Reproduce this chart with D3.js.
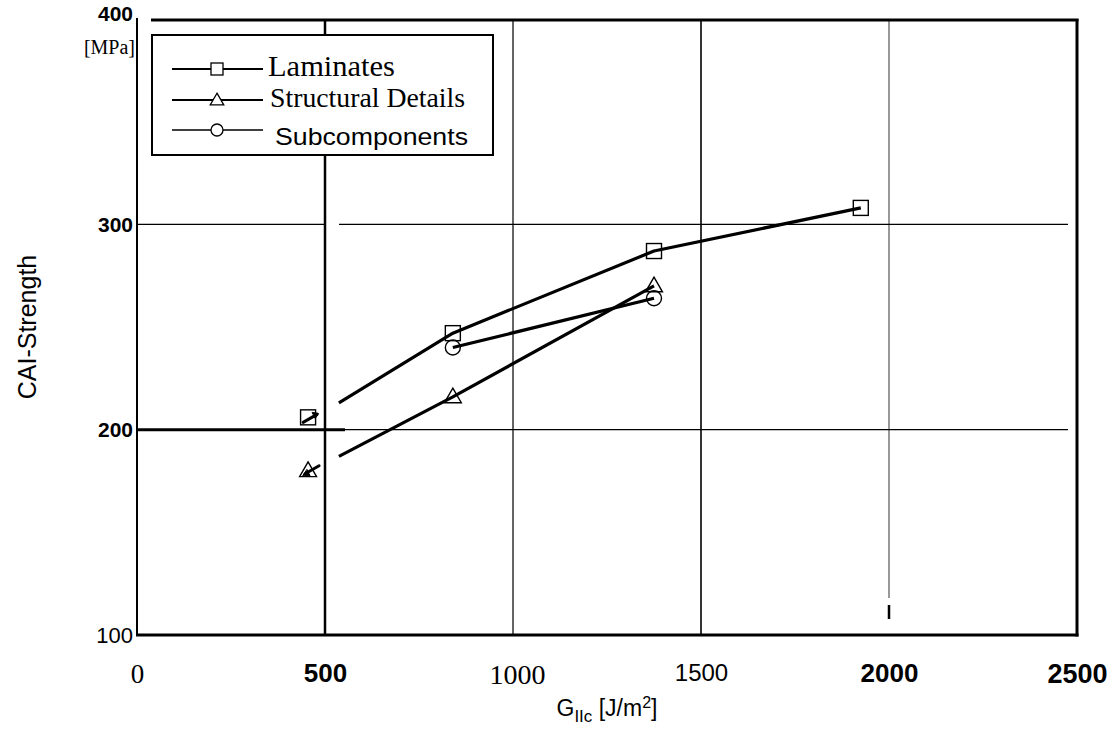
<!DOCTYPE html>
<html>
<head>
<meta charset="utf-8">
<script src="https://cdn.jsdelivr.net/npm/d3@7"></script>
<style>
  body { margin: 0; background: white; }
  svg { display: block; }
</style>
</head>
<body>
<script>
let x_size = 1120
let y_size = 742

// axis ticks
let xTicks = [0, 500, 1000, 1500, 2000, 2500]
let yTicks = [100, 200, 300, 400]
let seriesNames = ['Laminates', 'Structural Details', 'Subcomponents']

// markers
let laminatesX = [455, 840, 1375, 1925]
let laminatesY = [206, 247, 287, 308]
let structuralX = [455, 840, 1375]
let structuralY = [180, 216, 270]
let subcompX = [840, 1375]
let subcompY = [240, 264]

// drawn lines start a bit right of the first marker in the scan
let laminatesLineX = [537, 840, 1375, 1925]
let laminatesLineY = [213, 247, 287, 308]
let structuralLineX = [537, 840, 1375]
let structuralLineY = [187, 216, 270]

// per-label fonts, the scan mixes them
let xTickFont = {
    0: {family: 'Liberation Serif', weight: 'normal', size: 27},
    500: {family: 'Liberation Sans', weight: 'bold', size: 26},
    1000: {family: 'Liberation Serif', weight: 'normal', size: 28},
    1500: {family: 'Liberation Sans', weight: 'normal', size: 24},
    2000: {family: 'Liberation Sans', weight: 'bold', size: 26},
    2500: {family: 'Liberation Sans', weight: 'bold', size: 27}
}
let yTickFont = {
    100: {family: 'Liberation Sans', weight: 'normal', size: 22},
    200: {family: 'Liberation Sans', weight: 'bold', size: 21},
    300: {family: 'Liberation Sans', weight: 'bold', size: 21},
    400: {family: 'Liberation Sans', weight: 'bold', size: 21}
}

let pLeft = 137, pRight = 1077, pTop = 19, pBottom = 635
let x = d3.scaleLinear().domain([0, 2500]).range([pLeft, pRight])
let y = d3.scaleLinear().domain([100, 400]).range([pBottom, pTop])

function zip(xs, ys) { return xs.map((v, i) => [v, ys[i]]) }

function marker(g, type, cx, cy, s) {
    if (type === 'square')
        g.append('rect').attr('x', cx - s / 2).attr('y', cy - s / 2)
            .attr('width', s).attr('height', s)
    else if (type === 'triangle')
        g.append('path').attr('d', d3.symbol(d3.symbolTriangle, s * s * 0.55)()).attr('transform', `translate(${cx},${cy + 1})`)
    else
        g.append('circle').attr('cx', cx).attr('cy', cy).attr('r', s / 2)
}

let svg = d3.select('body').append('svg')
    .attr('width', x_size)
    .attr('height', y_size)
svg.append('rect').attr('width', x_size).attr('height', y_size).attr('fill', 'white')

// grid
let grid = svg.append('g').attr('stroke', 'black').attr('fill', 'none')
let vGrid = [
    {v: 500, w: 2.5, c: '#000', y1: pTop, y2: pBottom},
    {v: 1000, w: 1.3, c: '#111', y1: pTop, y2: pBottom},
    {v: 1500, w: 1.6, c: '#000', y1: pTop, y2: pBottom},
    {v: 2000, w: 1.1, c: '#444', y1: pTop + 1, y2: 598}
]
vGrid.forEach(d => {
    grid.append('line').attr('x1', x(d.v)).attr('x2', x(d.v)).attr('y1', d.y1).attr('y2', d.y2)
        .attr('stroke-width', d.w).attr('stroke', d.c)
})
grid.append('line').attr('x1', x(2000)).attr('x2', x(2000)).attr('y1', 605).attr('y2', 619).attr('stroke-width', 2.5)
let hGrid = [
    {v: 300, x1: pLeft, x2: x(500), w: 1.3},
    {v: 300, x1: x(500) + 14, x2: 1068, w: 1.3},
    {v: 200, x1: pLeft, x2: 345, w: 3},
    {v: 200, x1: 345, x2: 1068, w: 1.1}
]
hGrid.forEach(d => {
    grid.append('line').attr('x1', d.x1).attr('x2', d.x2).attr('y1', y(d.v)).attr('y2', y(d.v))
        .attr('stroke-width', d.w)
})

// frame
let frame = svg.append('g').attr('stroke', 'black').attr('fill', 'none')
frame.append('line').attr('x1', pLeft).attr('x2', pLeft).attr('y1', pTop - 1).attr('y2', pBottom + 1).attr('stroke-width', 2)
frame.append('line').attr('x1', 151).attr('x2', pRight + 1.5).attr('y1', pTop + 1).attr('y2', pTop + 1).attr('stroke-width', 3)
frame.append('line').attr('x1', pRight).attr('x2', pRight).attr('y1', pTop).attr('y2', pBottom + 1.5).attr('stroke-width', 3)
frame.append('line').attr('x1', pLeft - 1).attr('x2', pRight + 1.5).attr('y1', pBottom).attr('y2', pBottom).attr('stroke-width', 3)

// x axis labels
let xAxis = svg.append('g')
    .attr('transform', `translate(0,${pBottom})`)
    .call(d3.axisBottom(x).tickValues(xTicks).tickSize(0).tickPadding(29).tickFormat(d => String(d)))
xAxis.select('.domain').remove()
xAxis.selectAll('text')
    .attr('fill', 'black')
    .style('font-family', d => xTickFont[d].family)
    .style('font-weight', d => xTickFont[d].weight)
    .style('font-size', d => xTickFont[d].size + 'px')
xAxis.selectAll('.tick').filter(d => d === 1000).select('text').attr('dx', 4)

// y axis labels
let yAxis = svg.append('g')
    .attr('transform', `translate(${pLeft},0)`)
    .call(d3.axisLeft(y).tickValues(yTicks).tickSize(0).tickPadding(4).tickFormat(d => String(d)))
yAxis.select('.domain').remove()
yAxis.selectAll('text')
    .attr('fill', 'black')
    .style('font-family', d => yTickFont[d].family)
    .style('font-weight', d => yTickFont[d].weight)
    .style('font-size', d => yTickFont[d].size + 'px')
yAxis.selectAll('.tick').filter(d => d === 400).select('text').attr('dy', '0.05em')

svg.append('text')
    .attr('x', pLeft - 2).attr('y', 54)
    .attr('text-anchor', 'end')
    .style('font-family', 'Liberation Serif').style('font-size', '20px')
    .text('[MPa]')

// axis titles
svg.append('text')
    .attr('transform', `translate(36,${(pTop + pBottom) / 2}) rotate(-90)`)
    .attr('text-anchor', 'middle')
    .style('font-family', 'Liberation Sans').style('font-size', '25px')
    .text('CAI-Strength')

let xTitle = svg.append('text')
    .attr('x', 607).attr('y', 716)
    .attr('text-anchor', 'middle')
    .style('font-family', 'Liberation Sans Narrow, Liberation Sans').style('font-size', '23px')
xTitle.append('tspan').text('G')
xTitle.append('tspan').attr('dy', 6).style('font-size', '17px').text('IIc')
xTitle.append('tspan').attr('dy', -6).text(' [J/m')
xTitle.append('tspan').attr('dy', -8).style('font-size', '16px').text('2')
xTitle.append('tspan').attr('dy', 8).text(']')

// series
let line = d3.line().x(d => x(d[0])).y(d => y(d[1]))
let series = [
    {line: zip(laminatesLineX, laminatesLineY), pts: zip(laminatesX, laminatesY), m: 'square'},
    {line: zip(structuralLineX, structuralLineY), pts: zip(structuralX, structuralY), m: 'triangle'},
    {line: zip(subcompX, subcompY), pts: zip(subcompX, subcompY), m: 'circle'}
]
let markers = svg.append('g').attr('fill', 'none').attr('stroke', 'black').attr('stroke-width', 1.4)
series.forEach(s => {
    s.pts.forEach(p => marker(markers, s.m, x(p[0]), y(p[1]), 15))
})
series.forEach(s => {
    svg.append('path').datum(s.line).attr('d', line)
        .attr('fill', 'none').attr('stroke', 'black').attr('stroke-width', 3.2)
        .attr('stroke-linejoin', 'round')
})

// small arrows pointing at the first markers
let arrows = svg.append('g').attr('stroke', 'black').attr('stroke-width', 3).attr('stroke-linecap', 'round')
let sq = [x(laminatesX[0]), y(laminatesY[0])]
arrows.append('line').attr('x1', sq[0] - 5).attr('y1', sq[1] + 5).attr('x2', sq[0] + 9).attr('y2', sq[1] - 3)
arrows.append('path').attr('d', `M${sq[0] + 10},${sq[1] - 4}l-6,-1l3,6z`).attr('fill', 'black').attr('stroke-width', 1)
let tr = [x(structuralX[0]), y(structuralY[0])]
arrows.append('line').attr('x1', tr[0] + 11).attr('y1', tr[1] - 5).attr('x2', tr[0] - 3).attr('y2', tr[1] + 3)
arrows.append('path').attr('d', `M${tr[0] - 5},${tr[1] + 5}l7,0l-3,-6z`).attr('fill', 'black').attr('stroke-width', 1)

// legend
let legend = svg.append('g')
legend.append('rect').attr('x', 152).attr('y', 35).attr('width', 341).attr('height', 120)
    .attr('fill', 'white').attr('stroke', 'black').attr('stroke-width', 2)
let legendRows = [
    {y: 69, m: 'square', font: 'Liberation Serif', size: 29, tx: 268, ty: 76, len: 127},
    {y: 100, m: 'triangle', font: 'Liberation Serif', size: 27, tx: 270, ty: 107, len: 195},
    {y: 130, m: 'circle', font: 'Liberation Sans', size: 24, tx: 275, ty: 145, len: 193}
]
legendRows.forEach((r, i) => {
    legend.append('line').attr('x1', 172).attr('x2', 263).attr('y1', r.y).attr('y2', r.y)
        .attr('stroke', 'black').attr('stroke-width', i === 2 ? 1.5 : 2)
    let g = legend.append('g').attr('fill', 'white').attr('stroke', 'black').attr('stroke-width', 1.3)
    marker(g, r.m, 217, r.y, 12)
    legend.append('text').attr('x', r.tx).attr('y', r.ty)
        .attr('textLength', r.len).attr('lengthAdjust', 'spacingAndGlyphs')
        .style('font-family', r.font).style('font-size', r.size + 'px')
        .text(seriesNames[i])
})
</script>
</body>
</html>
